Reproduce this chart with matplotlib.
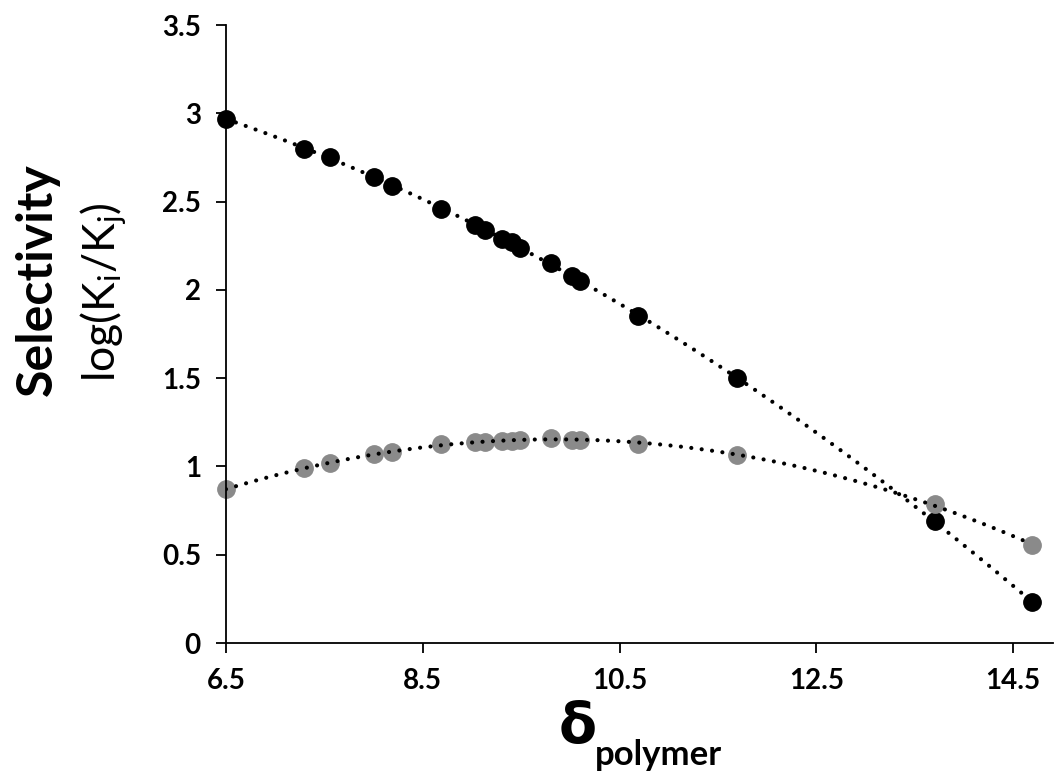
import numpy as np
import matplotlib
matplotlib.use('Agg')
import matplotlib.pyplot as plt

# solubility parameter of the polymer (shared by both series)
delta = [6.5, 7.29, 7.56, 8.00, 8.19, 8.68, 9.03, 9.13, 9.30, 9.41,
         9.49, 9.80, 10.02, 10.10, 10.69, 11.69, 13.71, 14.69]
sel_black = [2.97, 2.80, 2.75, 2.64, 2.59, 2.46, 2.37, 2.34, 2.29, 2.27,
             2.24, 2.15, 2.08, 2.05, 1.85, 1.50, 0.69, 0.23]
sel_gray = [0.87, 0.99, 1.02, 1.07, 1.08, 1.13, 1.14, 1.14, 1.145, 1.145,
            1.15, 1.16, 1.15, 1.15, 1.13, 1.065, 0.785, 0.555]

xticks = [6.5, 8.5, 10.5, 12.5, 14.5]
yticks = [0, 0.5, 1, 1.5, 2, 2.5, 3, 3.5]

plt.rcParams['font.family'] = ['Lato', 'DejaVu Sans']
plt.rcParams['mathtext.fontset'] = 'custom'
plt.rcParams['mathtext.rm'] = 'Lato'
plt.rcParams['mathtext.it'] = 'Lato'

fig = plt.figure(figsize=(10.55, 7.78), dpi=100)
ax = fig.add_axes([0.2142, 0.1735, 0.7835, 0.7943])

x = np.array(delta)
xs = np.linspace(x.min(), x.max(), 300)

ax.plot(x, sel_black, 'o', color='black', markersize=12.5, zorder=2, clip_on=False)
ax.plot(x, sel_gray, 'o', color='#8a8a8a', markersize=12.5, zorder=2, clip_on=False)

# polynomial trend lines, like the spreadsheet ones
for ys in (sel_black, sel_gray):
    c = np.polyfit(x, ys, 2)
    ax.plot(xs, np.polyval(c, xs), color='black', lw=3.0,
            linestyle=(0, (0.01, 2.5)), dash_capstyle='round', zorder=3)

ax.set_xlim(6.5, 14.9)
ax.set_ylim(0, 3.5)
ax.set_xticks(xticks)
ax.set_xticklabels(['6.5', '8.5', '10.5', '12.5', '14.5'])
ax.set_yticks(yticks)
ax.set_yticklabels(['0', '0.5', '1', '1.5', '2', '2.5', '3', '3.5'])

for s in ['top', 'right']:
    ax.spines[s].set_visible(False)
for s in ['left', 'bottom']:
    ax.spines[s].set_linewidth(1.3)
ax.tick_params(direction='out', length=7, width=1.3, pad=11,
               labelsize=20)
for lab in ax.get_xticklabels() + ax.get_yticklabels():
    lab.set_fontweight('bold')

fig.text(0.035, 0.64, 'Selectivity', rotation=90, ha='center', va='center',
         fontsize=36, fontweight='bold')
fig.text(0.098, 0.625, r'log(K$_\mathregular{i}$/K$_\mathregular{j}$)', rotation=90,
         ha='center', va='center', fontsize=32)

fig.text(0.548, 0.045, 'δ', ha='center', va='baseline', fontsize=40,
         fontweight='bold', family=['DejaVu Sans'])
fig.text(0.564, 0.017, 'polymer', ha='left', va='baseline', fontsize=25,
         fontweight='bold')

fig.savefig('out.png', dpi=100)
